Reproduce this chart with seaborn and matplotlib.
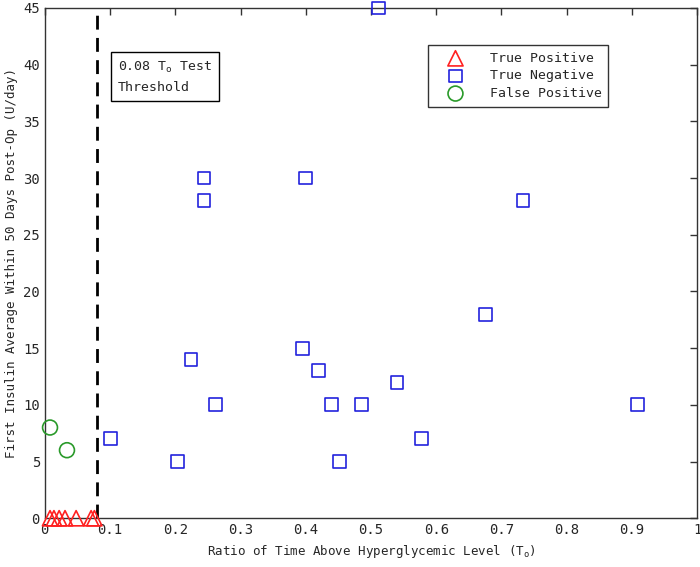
import seaborn as sns
import matplotlib.pyplot as plt
import pandas as pd

# data
tp_x = [0.008, 0.014, 0.022, 0.031, 0.048, 0.071, 0.076]
tp_y = [0, 0, 0, 0, 0, 0, 0]

tn_x = [0.101, 0.204, 0.224, 0.244, 0.244, 0.262, 0.395, 0.399, 0.420, 0.439,
        0.452, 0.485, 0.511, 0.540, 0.577, 0.676, 0.733, 0.909]
tn_y = [7, 5, 14, 30, 28, 10, 15, 30, 13, 10,
        5, 10, 45, 12, 7, 18, 28, 10]

fp_x = [0.008, 0.034]
fp_y = [8, 6]

threshold = 0.08

sns.set_style("white")
plt.rcParams['font.family'] = ['DejaVu Sans Mono', 'DejaVu Sans']
plt.rcParams['mathtext.default'] = 'regular'

fig = plt.figure(figsize=(7, 5.67), dpi=100)
ax = fig.add_axes([0.064, 0.086, 0.932, 0.9])

groups = [
    ("True Positive", tp_x, tp_y, "^", "#ff2020", 120),
    ("True Negative", tn_x, tn_y, "s", "#2222dd", 85),
    ("False Positive", fp_x, fp_y, "o", "#2a9a2a", 115),
]
for name, xs, ys, mk, col, sz in groups:
    df = pd.DataFrame({"x": xs, "y": ys})
    sns.scatterplot(data=df, x="x", y="y", marker=mk, s=sz, facecolor="none",
                    edgecolor=col, linewidth=1.2, ax=ax, label=name, clip_on=False,
                    zorder=3)

ax.axvline(threshold, color="black", linestyle=(0, (5, 3)), linewidth=2, zorder=2)

ax.text(0.112, 40.4, "0.08 T$_o$ Test\nThreshold", fontsize=9.5, va="top", ha="left",
        linespacing=1.6,
        bbox=dict(boxstyle="square,pad=0.5", facecolor="white", edgecolor="black",
                  linewidth=1))

ax.set_xlim(0, 1)
ax.set_ylim(0, 45)
ax.set_xticks([i / 10 for i in range(11)])
ax.set_xticklabels(["0"] + [f"0.{i}" for i in range(1, 10)] + ["1"])
ax.set_yticks(range(0, 46, 5))
ax.tick_params(direction="in", top=True, right=True, length=5, width=1,
               labelsize=10, color="#333333")
for sp in ax.spines.values():
    sp.set_color("#333333")
    sp.set_linewidth(1)

ax.set_xlabel("Ratio of Time Above Hyperglycemic Level (T$_o$)", fontsize=9)
ax.set_ylabel("First Insulin Average Within 50 Days Post-Op (U/day)", fontsize=9)

leg = ax.legend(loc="upper left", bbox_to_anchor=(0.587, 0.927), borderaxespad=0,
                fancybox=False, edgecolor="black", fontsize=9.5, handletextpad=1.0,
                handlelength=3.2, borderpad=0.5, labelspacing=0.35)
leg.get_frame().set_linewidth(1)

fig.savefig("out.png", dpi=100)
